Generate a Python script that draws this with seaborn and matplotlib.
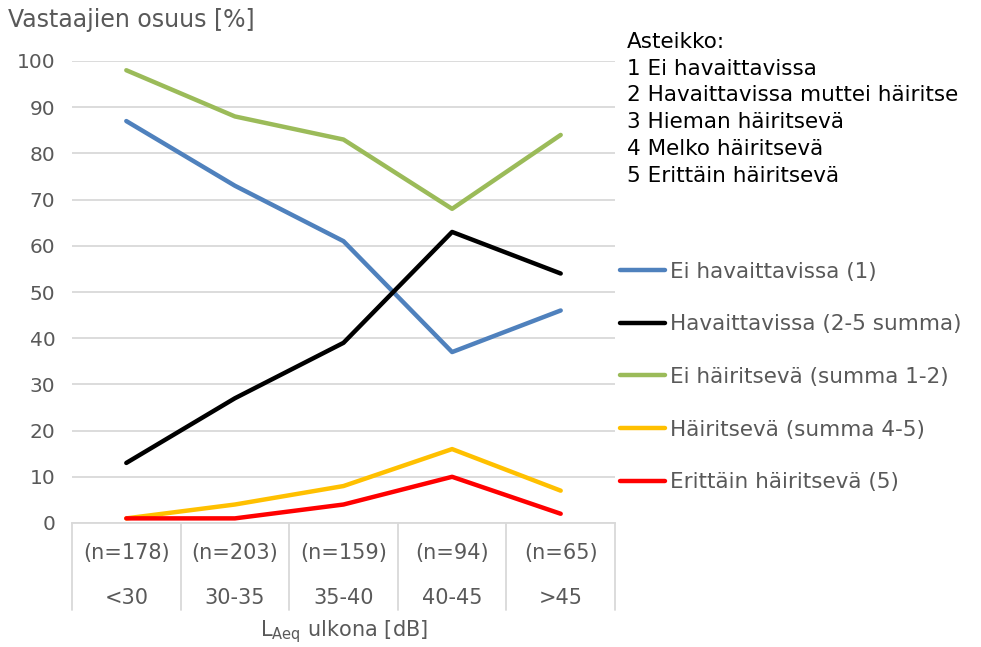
import pandas as pd
import numpy as np
import seaborn as sns
import matplotlib.pyplot as plt

# ------------------ Data ------------------
ranges = ["<30", "30-35", "35-40", "40-45", ">45"]
n_labels = ["(n=178)", "(n=203)", "(n=159)", "(n=94)", "(n=65)"]

ei_havaittavissa = [87, 73, 61, 37, 46]
havaittavissa = [13, 27, 39, 63, 54]
ei_hairitseva = [98, 88, 83, 68, 84]
hairitseva = [1, 4, 8, 16, 7]
erittain = [1, 1, 4, 10, 2]

series_names = ["Ei havaittavissa (1)", "Havaittavissa (2-5 summa)",
                "Ei häiritsevä (summa 1-2)", "Häiritsevä (summa 4-5)",
                "Erittäin häiritsevä (5)"]
series_values = [ei_havaittavissa, havaittavissa, ei_hairitseva, hairitseva, erittain]
colors = ["#4F81BD", "#000000", "#9BBB59", "#FFC000", "#FF0000"]

scale_text = ("Asteikko:\n1 Ei havaittavissa\n2 Havaittavissa muttei häiritse\n"
              "3 Hieman häiritsevä\n4 Melko häiritsevä\n5 Erittäin häiritsevä")

rows = []
for name, vals in zip(series_names, series_values):
    for i, v in enumerate(vals):
        rows.append({"pos": i, "value": v, "series": name})
df = pd.DataFrame(rows)

# ------------------ Plot ------------------
sns.set_theme(style="white")
plt.rcParams["font.family"] = ["DejaVu Sans"]
plt.rcParams["mathtext.default"] = "regular"
grey = "#595959"
grid = "#D9D9D9"

fig = plt.figure(figsize=(9.81, 6.47), dpi=100)
ax = fig.add_axes([72 / 981, 1 - 523 / 647, 543 / 981, 462 / 647])

sns.lineplot(data=df, x="pos", y="value", hue="series", hue_order=series_names,
             palette=colors, linewidth=3.2, ax=ax, legend=True)
for line in ax.lines:
    line.set_solid_capstyle("round")

ax.set_xlim(-0.5, len(ranges) - 0.5)
ax.set_ylim(0, 100)
ax.set_yticks(np.arange(0, 101, 10))
ax.yaxis.grid(True, color=grid, linewidth=1.3)
ax.set_axisbelow(True)
ax.tick_params(axis="y", length=0, pad=12, labelsize=14.5, labelcolor=grey)
ax.set_xticks([])
ax.set_xlabel("")
ax.set_ylabel("")
for s in ["top", "right", "left"]:
    ax.spines[s].set_visible(False)
ax.spines["bottom"].set_color(grid)
ax.spines["bottom"].set_linewidth(1.3)

# multi-level category axis
tr = ax.get_xaxis_transform()
for b in np.arange(-0.5, len(ranges), 1.0):
    ax.plot([b, b], [0, -0.188], transform=tr, color=grid, lw=1.3, clip_on=False)
for i, (nl, r) in enumerate(zip(n_labels, ranges)):
    ax.text(i, -0.065, nl, transform=tr, ha="center", va="center", fontsize=15, color=grey)
    ax.text(i, -0.162, r, transform=tr, ha="center", va="center", fontsize=15, color=grey)
ax.text(2, -0.236, r"L$_{Aeq}$ ulkona [dB]", transform=tr, ha="center", va="center",
        fontsize=15, color=grey)

fig.text(8 / 981, 1 - 20 / 647, "Vastaajien osuus [%]", ha="left", va="center",
         fontsize=17, color=grey)
fig.text(627 / 981, 1 - 32 / 647, scale_text, ha="left", va="top", fontsize=15.5,
         color="black", linespacing=1.42)

leg = ax.legend(loc="center left", bbox_to_anchor=(1.009, 0.316), frameon=False,
                fontsize=15.5, handlelength=2.1, handletextpad=0.25, labelspacing=1.52,
                borderaxespad=0.0, borderpad=0.0)
for t in leg.get_texts():
    t.set_color(grey)

fig.savefig("out.png", dpi=100)
